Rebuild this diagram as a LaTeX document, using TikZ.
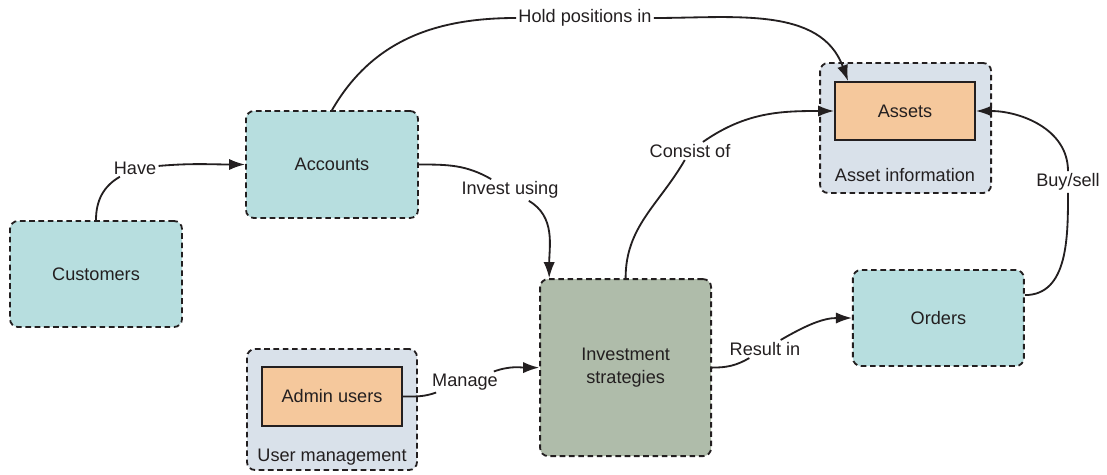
\documentclass[tikz,border=0pt]{standalone}
\usepackage{fontspec}
\setmainfont{Liberation Sans}
\usetikzlibrary{arrows.meta,positioning}
\definecolor{tealbox}{RGB}{183,222,223}
\definecolor{peach}{RGB}{245,200,156}
\definecolor{greybox}{RGB}{217,225,234}
\definecolor{sagebox}{RGB}{175,188,170}
\definecolor{inkdark}{RGB}{35,31,32}

\begin{document}
\begin{tikzpicture}[>={Latex[length=4mm,width=2.8mm]},font=\fontsize{12.9}{16.3}\selectfont,text=inkdark]
\tikzstyle{entity}=[draw=inkdark,dash pattern=on 4pt off 2.6pt,line width=1.3pt,rounded corners=0.2cm,fill=tealbox,minimum width=4.3cm,minimum height=2.65cm,align=center]
\tikzstyle{groupbox}=[entity,fill=greybox]
\tikzstyle{core}=[draw=inkdark,line width=1.3pt,fill=peach,minimum width=3.5cm,minimum height=1.45cm]
\tikzstyle{rel}=[fill=white,inner sep=1.5pt]
\tikzstyle{link}=[->,line width=1.3pt,draw=inkdark]
\useasboundingbox (0,0) rectangle (27.675,11.85);
% boxes
\node[entity] (cust) at (2.4,5.0) {Customers};
\node[entity,minimum height=2.675cm] (acc) at (8.3,7.7375) {Accounts};
\node[groupbox,minimum width=4.275cm,minimum height=3.25cm] (assetinfo) at (22.64,8.65) {};
\node[core] (assets) at (22.625,9.075) {Assets};
\node (assetlbl) at (22.625,7.475) {Asset information};
\node[entity,fill=sagebox,minimum width=4.275cm,minimum height=4.425cm] (inv) at (15.64,2.66) {Investment\\strategies};
\node[entity,minimum width=4.275cm,minimum height=2.4cm] (orders) at (23.46,3.9) {Orders};
\node[groupbox,minimum width=4.25cm,minimum height=3.025cm] (usermgmt) at (8.3,1.6125) {};
\node[core,minimum height=1.475cm] (admin) at (8.3,1.9375) {Admin users};
\node (userlbl) at (8.3,0.425) {User management};
% relation labels
\node[rel] (have) at (3.375,7.65) {Have};
\node[rel] (hold) at (14.625,11.4) {Hold positions in};
\node[rel] (investusing) at (12.75,7.1) {Invest using};
\node[rel] (consist) at (17.25,8.075) {Consist of};
\node[rel] (buysell) at (26.7,7.3) {Buy/sell};
\node[rel] (result) at (19.125,3.125) {Result in};
\node[rel] (manage) at (11.625,2.3) {Manage};
% connectors
\draw[link] (cust.north) to[out=90,in=-150] (have) to[out=5,in=180] (acc.west);
\draw[link] (acc.north) to[out=60,in=180] (hold) to[out=0,in=110] ([xshift=0.35cm]assets.north west);
\draw[link] (acc.east) to[out=0,in=150] (investusing) to[out=-30,in=90] ([xshift=0.25cm]inv.north west);
\draw[link] (inv.north) to[out=90,in=-120] (consist) to[out=35,in=180] (assets.west);
\draw[link] ([yshift=-0.65cm]orders.north east) to[out=0,in=-90] (buysell) to[out=90,in=0] (assets.east);
\draw[link] (inv.east) to[out=0,in=-150] (result) to[out=30,in=180] (orders.west);
\draw[link] (admin.east) to[out=0,in=-160] (manage) to[out=20,in=180] (inv.west);
\end{tikzpicture}
\end{document}
